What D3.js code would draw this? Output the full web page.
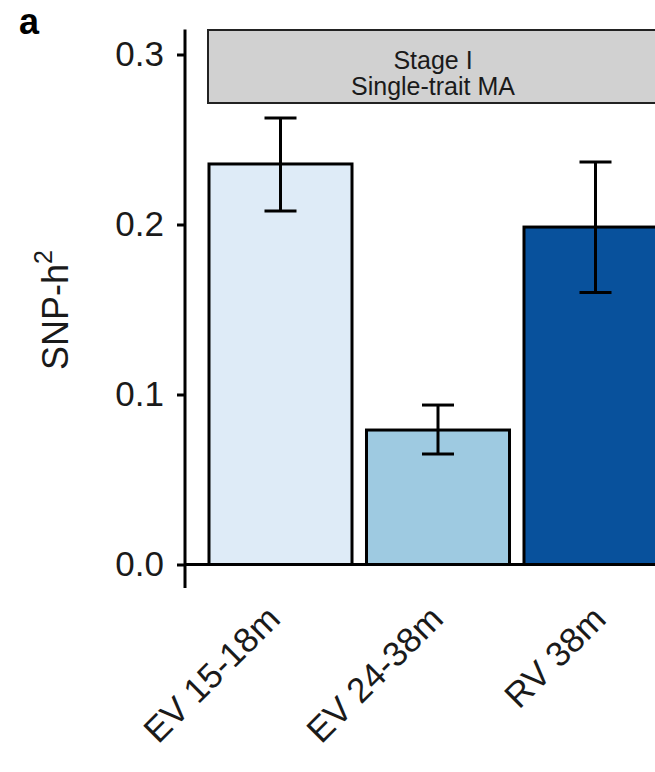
<!DOCTYPE html>
<html>
<head>
<meta charset="utf-8">
<script src="https://cdn.jsdelivr.net/npm/d3@7"></script>
<style>
  body { margin: 0; background: #fff; }
  svg { display: block; font-family: "Liberation Sans", Arial, sans-serif; }
</style>
</head>
<body>
<div id="chart"></div>
<script>
// data
const categories = ["EV 15-18m", "EV 24-38m", "RV 38m"];
const h2 = [0.2356, 0.0791, 0.1985];
const errLow = [0.208, 0.065, 0.160];
const errHigh = [0.2626, 0.0938, 0.2368];
const barColors = ["#deebf7", "#9ecae1", "#08519c"];
const yTicks = [0.0, 0.1, 0.2, 0.3];
const stripLines = ["Stage I", "Single-trait MA"];

const W = 655, H = 772;

const svg = d3.select("#chart")
  .append("svg")
    .attr("width", W)
    .attr("height", H);

// scales
const x = d3.scaleBand()
  .domain(categories)
  .range([201.75, 674.25])
  .paddingInner(0.092)
  .paddingOuter(0.046);

const y = d3.scaleLinear()
  .domain([0, 0.3])
  .range([564.5, 54.5]);

// label positions drift a little from the bar centres in the source
const xLab = d3.scalePoint()
  .domain(categories)
  .range([282, 608]);

const axisX = 185;

// strip header
const strip = svg.append("g");
strip.append("rect")
  .attr("x", 208)
  .attr("y", 30)
  .attr("width", 470)
  .attr("height", 73)
  .attr("fill", "#d1d1d1")
  .attr("stroke", "#222")
  .attr("stroke-width", 2);
strip.selectAll("text")
  .data(stripLines)
  .enter()
  .append("text")
    .attr("x", 433)
    .attr("y", (d, i) => 69 + i * 26)
    .attr("text-anchor", "middle")
    .attr("font-size", 25)
    .attr("fill", "#1a1a1a")
    .text(d => d);

// bars
const rows = categories.map((c, i) => ({c, v: h2[i], lo: errLow[i], hi: errHigh[i], col: barColors[i]}));

svg.selectAll("rect.bar")
  .data(rows)
  .enter()
  .append("rect")
    .attr("class", "bar")
    .attr("x", d => x(d.c))
    .attr("y", d => y(d.v))
    .attr("width", x.bandwidth())
    .attr("height", d => y(0) - y(d.v))
    .attr("fill", d => d.col)
    .attr("stroke", "#000")
    .attr("stroke-width", 3);

// baseline
svg.append("line")
  .attr("x1", axisX).attr("x2", W)
  .attr("y1", y(0)).attr("y2", y(0))
  .attr("stroke", "#000")
  .attr("stroke-width", 3);

// error bars
const cap = 16;
const eb = svg.selectAll("g.err")
  .data(rows)
  .enter()
  .append("g")
    .attr("class", "err")
    .attr("stroke", "#000")
    .attr("stroke-width", 3);
eb.append("line")
  .attr("x1", d => x(d.c) + x.bandwidth() / 2)
  .attr("x2", d => x(d.c) + x.bandwidth() / 2)
  .attr("y1", d => y(d.lo))
  .attr("y2", d => y(d.hi));
eb.append("line")
  .attr("x1", d => x(d.c) + x.bandwidth() / 2 - cap)
  .attr("x2", d => x(d.c) + x.bandwidth() / 2 + cap)
  .attr("y1", d => y(d.hi))
  .attr("y2", d => y(d.hi));
eb.append("line")
  .attr("x1", d => x(d.c) + x.bandwidth() / 2 - cap)
  .attr("x2", d => x(d.c) + x.bandwidth() / 2 + cap)
  .attr("y1", d => y(d.lo))
  .attr("y2", d => y(d.lo));

// Y axis
const yAxis = svg.append("g")
  .attr("transform", `translate(${axisX},0)`)
  .call(d3.axisLeft(y).tickValues(yTicks).tickFormat(d3.format(".1f")).tickSize(8).tickPadding(13));
yAxis.select(".domain").remove();
yAxis.selectAll(".tick line").attr("stroke", "#000").attr("stroke-width", 3);
yAxis.selectAll(".tick text")
  .attr("font-size", 35)
  .attr("font-family", "Liberation Sans, Arial, sans-serif")
  .attr("fill", "#1a1a1a");
yAxis.append("line")
  .attr("x1", 0).attr("x2", 0)
  .attr("y1", y(0.3147)).attr("y2", y(-0.0138))
  .attr("stroke", "#000")
  .attr("stroke-width", 3);

// X labels, rotated
svg.selectAll("text.xlab")
  .data(categories)
  .enter()
  .append("text")
    .attr("class", "xlab")
    .attr("transform", d => `translate(${xLab(d)},621) rotate(-45)`)
    .attr("text-anchor", "end")
    .attr("font-size", 35)
    .attr("fill", "#1a1a1a")
    .text(d => d);

// Y title
const yt = svg.append("text")
  .attr("transform", "translate(68,310) rotate(-90)")
  .attr("text-anchor", "middle")
  .attr("font-size", 36)
  .attr("fill", "#1a1a1a");
yt.append("tspan").text("SNP-h");
yt.append("tspan").attr("font-size", 25).attr("dy", -16).text("2");

// panel tag
svg.append("text")
  .attr("x", 19)
  .attr("y", 34)
  .attr("font-size", 36)
  .attr("font-weight", "bold")
  .text("a");
</script>
</body>
</html>
